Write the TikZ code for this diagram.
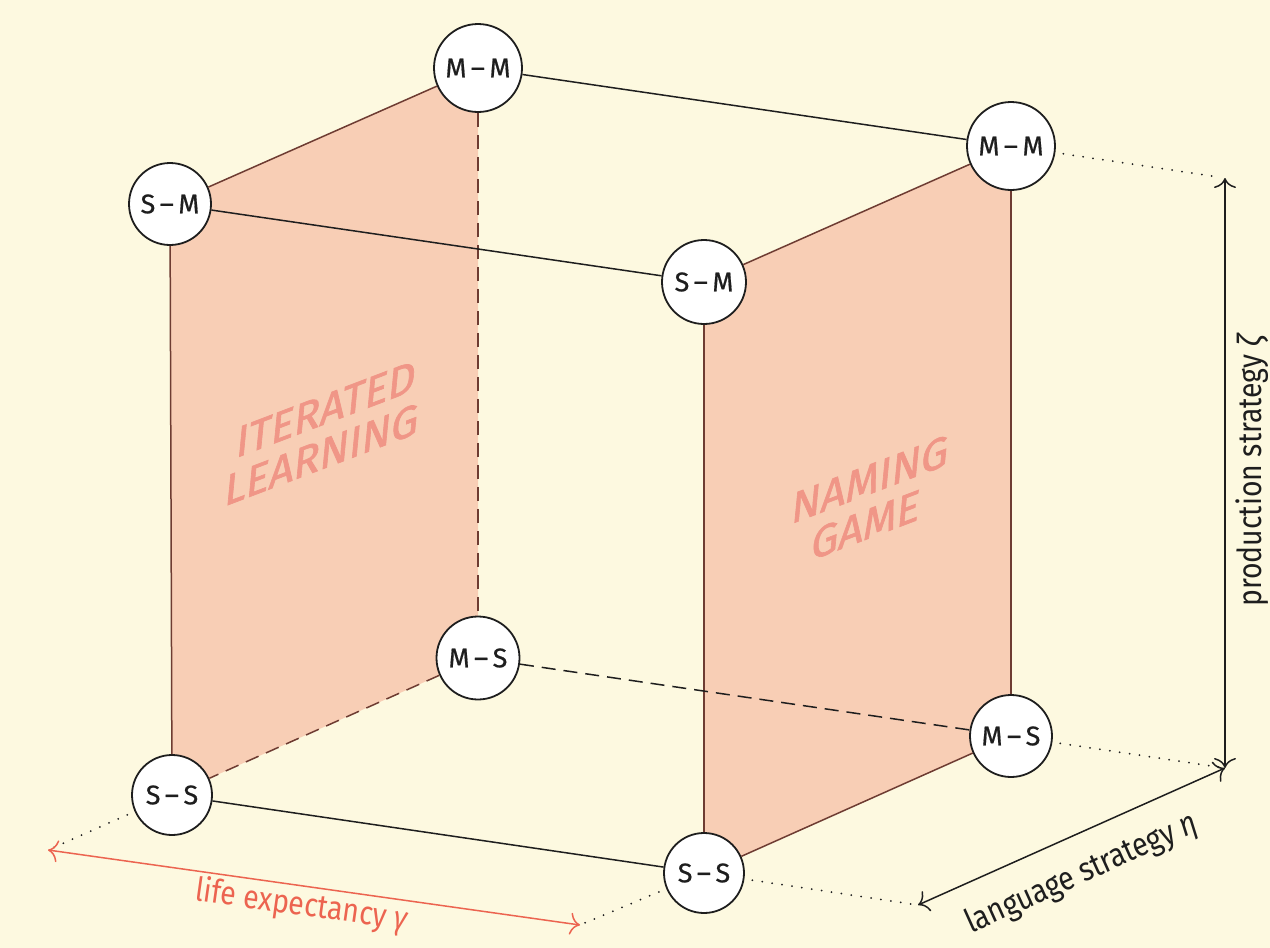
\documentclass[tikz,border=0pt]{standalone}
\usepackage{fontspec}
\setmainfont{Fira Sans}
\newfontfamily\condfont[FakeStretch=0.86]{Fira Sans}
\newfontfamily\facefont[FakeBold=1.5]{Fira Sans}
\newfontfamily\nodefont[FakeBold=0.6]{Fira Sans}
\usetikzlibrary{arrows.meta}
\pgfdeclarelayer{background}
\pgfsetlayers{background,main}
\definecolor{paper}{RGB}{253,249,224}
\definecolor{face}{RGB}{248,206,181}
\definecolor{facetext}{RGB}{240,150,135}
\definecolor{edgebrown}{RGB}{110,60,50}
\definecolor{lifered}{RGB}{236,100,80}
\definecolor{ink}{RGB}{30,30,30}
\begin{document}
\begin{tikzpicture}[x=1pt,y=-1pt,
  state/.style={circle, draw=ink, line width=1.8pt, fill=white, inner sep=0pt,
    font=\nodefont\fontsize{27}{30}\selectfont, text=ink},
  edge/.style={draw=ink, line width=1.5pt},
  faceedge/.style={draw=edgebrown, line width=1.5pt},
  hidden/.style={dash pattern=on 14pt off 8pt},
  guide/.style={draw=ink, line width=2pt, dash pattern=on 0pt off 10pt, line cap=round,
    shorten <=8pt, shorten >=4pt},
  axis/.style={draw=ink, line width=1.5pt,
    {To[length=10pt,width=22pt]}-{To[length=10pt,width=22pt]}},
  facelabel/.style={text=facetext, font=\facefont\fontsize{43}{44}\selectfont,
    align=center, yslant=0.38, xslant=0.1},
  axislabel/.style={font=\condfont\fontsize{33}{35}\selectfont, text=ink}
]
\useasboundingbox (0,0) rectangle (1270,948);

% cube corners
\node[state, minimum size=88pt] (MMb) at (478,68)  {M\,–\,M};
\node[state, minimum size=82pt] (SMl) at (170,204) {S\,–\,M};
\node[state, minimum size=88pt] (MMr) at (1011,146) {M\,–\,M};
\node[state, minimum size=84pt] (SMf) at (704,282) {S\,–\,M};
\node[state, minimum size=83pt] (MSb) at (478,658) {M\,–\,S};
\node[state, minimum size=82pt] (MSr) at (1011,736) {M\,–\,S};
\node[state, minimum size=80pt] (SSl) at (172,795) {S\,–\,S};
\node[state, minimum size=80pt] (SSf) at (704,873) {S\,–\,S};

% axis end points
\coordinate (pt) at (1225,178);
\coordinate (pb) at (1225,768);
\coordinate (lf) at (918,905);
\coordinate (ea) at (48,850);
\coordinate (eb) at (580,925);

\begin{pgfonlayer}{background}
  \fill[paper] (0,0) rectangle (1270,948);
  \fill[face] (SMl.center) -- (MMb.center) -- (MSb.center) -- (SSl.center) -- cycle;
  \fill[face] (SMf.center) -- (MMr.center) -- (MSr.center) -- (SSf.center) -- cycle;
\end{pgfonlayer}

% shaded faces
\node[facelabel] (il) at (324,432) {ITERATED\\LEARNING};
\node[facelabel] (ng) at (868,502) {NAMING\\GAME};

% face edges
\draw[faceedge] (SMl) -- (MMb);
\draw[faceedge] (SMl) -- (SSl);
\draw[faceedge, hidden] (MMb) -- (MSb);
\draw[faceedge, hidden] (MSb) -- (SSl);
\draw[faceedge] (SMf) -- (MMr);
\draw[faceedge] (MMr) -- (MSr);
\draw[faceedge] (MSr) -- (SSf);
\draw[faceedge] (SSf) -- (SMf);

% connecting edges
\draw[edge] (MMb) -- (MMr);
\draw[edge] (SMl) -- (SMf);
\draw[edge] (SSl) -- (SSf);
\draw[edge, hidden] (MSb) -- (MSr);

% extension lines
\draw[guide] (MMr) -- (pt);
\draw[guide] (MSr) -- (pb);
\draw[guide] (SSf) -- (lf);
\draw[guide] (SSl) -- (ea);
\draw[guide] (SSf) -- (eb);

% axes
\draw[axis] (pb) -- (pt);
\draw[axis] (pb) -- (lf);
\draw[axis, draw=lifered] (ea) -- (eb);

\node[axislabel, rotate=90] (prodlab) at (1252,470) {production strategy \textit{ζ}};
\node[axislabel, rotate=24.3] (langlab) at (1082,874) {language strategy \textit{η}};
\node[axislabel, text=lifered, rotate=-8] (lifelab) at (302,906) {life expectancy \textit{γ}};
\end{tikzpicture}
\end{document}
